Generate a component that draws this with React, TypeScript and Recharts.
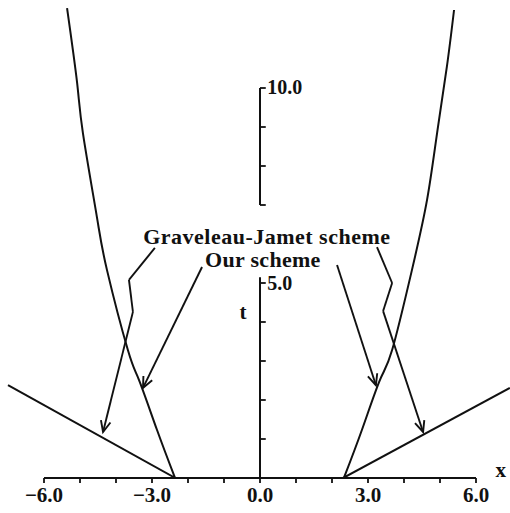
import React from 'react';
import {
  LineChart,
  Line,
  XAxis,
  YAxis,
  ReferenceLine,
  ReferenceDot,
} from 'recharts';

// shock position x against time t, both schemes, left and right fronts
const gjLeftX = [-2.35, -7.0];
const gjLeftT = [0, 2.38];
const gjRightX = [2.31, 6.94];
const gjRightT = [0, 2.31];

const ourLeftX = [-2.36, -2.86, -3.36, -3.67, -4.25, -4.53, -4.92, -5.08, -5.36];
const ourLeftT = [0, 1.23, 2.51, 3.28, 5.33, 6.69, 8.85, 10.13, 12.05];
const ourRightX = [2.33, 2.83, 3.33, 3.67, 4.22, 4.64, 4.92, 5.19, 5.39];
const ourRightT = [0, 1.23, 2.51, 3.28, 5.33, 7.13, 8.85, 10.54, 12.0];

const xTicks = [-6, -5, -4, -3, -2, -1, 0, 1, 2, 3, 4, 5, 6];
const xLabelled = [-6, -3, 0, 3, 6];
const tTicksLow = [1, 2, 3, 4, 5];
const tTicksHigh = [7, 8, 9, 10];

const toPoints = (xs: number[], ts: number[]) => xs.map((x, i) => ({ x, t: ts[i] }));

const FONT = '"Liberation Serif", "DejaVu Serif", serif';
const INK = '#111';

const fmtX = (v: number) => {
  if (!xLabelled.includes(v)) return '';
  const s = Math.abs(v).toFixed(1);
  return v < 0 ? `\u2212${s}` : s;
};

// a line ending in an open arrowhead
const Arrow = (props: any) => {
  const { x1, y1, x2, y2 } = props;
  const a = Math.atan2(y2 - y1, x2 - x1);
  const len = 12;
  const spread = 0.42;
  const hx1 = x2 - len * Math.cos(a - spread);
  const hy1 = y2 - len * Math.sin(a - spread);
  const hx2 = x2 - len * Math.cos(a + spread);
  const hy2 = y2 - len * Math.sin(a + spread);
  return (
    <g stroke={INK} strokeWidth={1.9} fill="none">
      <line x1={x1} y1={y1} x2={x2} y2={y2} />
      <polyline points={`${hx1},${hy1} ${x2},${y2} ${hx2},${hy2}`} />
    </g>
  );
};

const textAt = (
  text: string,
  size: number,
  anchor: 'start' | 'middle' = 'middle',
  spacing = 0,
) =>
  (p: any) => (
    <text
      x={p.cx}
      y={p.cy}
      textAnchor={anchor}
      dominantBaseline="central"
      fontFamily={FONT}
      fontWeight="bold"
      fontSize={size}
      letterSpacing={spacing}
      fill={INK}
    >
      {text}
    </text>
  );

const seg = (x1: number, t1: number, x2: number, t2: number) => [
  { x: x1, y: t1 },
  { x: x2, y: t2 },
];

const curve = (xs: number[], ts: number[], type: 'linear' | 'natural') => (
  <Line
    data={toPoints(xs, ts)}
    dataKey="t"
    type={type}
    stroke={INK}
    strokeWidth={2}
    dot={false}
    activeDot={false}
    isAnimationActive={false}
  />
);

export default function App() {
  return (
    <div style={{ position: 'absolute', left: 0, top: 0, background: '#fff' }}>
      <LineChart width={510} height={513} margin={{ top: 0, right: 0, bottom: 0, left: 0 }}>
        <XAxis
          type="number"
          dataKey="x"
          domain={[-260 / 36, 250 / 36]}
          ticks={xTicks}
          tickFormatter={fmtX}
          axisLine={false}
          tickLine={{ stroke: INK, strokeWidth: 1.8 }}
          tickSize={5}
          tickMargin={4}
          height={35}
          interval={0}
          allowDataOverflow
          tick={{ fill: INK, fontFamily: FONT, fontWeight: 'bold', fontSize: 21 }}
        />
        <YAxis type="number" dataKey="t" domain={[0, 478 / 39]} hide allowDataOverflow />

        {/* x axis line and broken t axis */}
        <ReferenceLine segment={seg(-6, 0, 6, 0)} stroke={INK} strokeWidth={2} />
        <ReferenceLine segment={seg(0, 0, 0, 5.15)} stroke={INK} strokeWidth={2} />
        <ReferenceLine segment={seg(0, 7, 0, 10)} stroke={INK} strokeWidth={2} />
        {[...tTicksLow, ...tTicksHigh].map((t) => (
          <ReferenceLine key={t} segment={seg(0, t, 0.16, t)} stroke={INK} strokeWidth={1.8} />
        ))}

        {curve(gjLeftX, gjLeftT, 'linear')}
        {curve(gjRightX, gjRightT, 'linear')}
        {curve(ourLeftX, ourLeftT, 'natural')}
        {curve(ourRightX, ourRightT, 'natural')}

        {/* leader lines from the labels */}
        <ReferenceLine segment={seg(-2.92, 5.9, -3.64, 5.08)} stroke={INK} strokeWidth={1.9} />
        <ReferenceLine segment={seg(-3.64, 5.08, -3.53, 4.26)} stroke={INK} strokeWidth={1.9} />
        <ReferenceLine segment={seg(-3.53, 4.26, -4.36, 1.18)} shape={Arrow} />
        <ReferenceLine segment={seg(-1.61, 5.41, -3.25, 2.31)} shape={Arrow} />
        <ReferenceLine segment={seg(2.14, 5.46, 3.22, 2.38)} shape={Arrow} />
        <ReferenceLine segment={seg(3.25, 5.92, 3.67, 5.0)} stroke={INK} strokeWidth={1.9} />
        <ReferenceLine segment={seg(3.67, 5.0, 3.42, 4.28)} stroke={INK} strokeWidth={1.9} />
        <ReferenceLine segment={seg(3.42, 4.28, 4.53, 1.18)} shape={Arrow} />

        {/* text */}
        <ReferenceDot x={0.19} y={6.18} r={0} shape={textAt('Graveleau-Jamet scheme', 22, 'middle', 0.5)} />
        <ReferenceDot x={0.08} y={5.59} r={0} shape={textAt('Our scheme', 22, 'middle', 0.3)} />
        <ReferenceDot x={0.2} y={10.03} r={0} shape={textAt('10.0', 20, 'start')} />
        <ReferenceDot x={0.2} y={5.0} r={0} shape={textAt('5.0', 20, 'start')} />
        <ReferenceDot x={-0.47} y={4.26} r={0} shape={textAt('t', 21)} />
        <ReferenceDot x={6.69} y={0.2} r={0} shape={textAt('x', 21)} />
      </LineChart>
    </div>
  );
}
